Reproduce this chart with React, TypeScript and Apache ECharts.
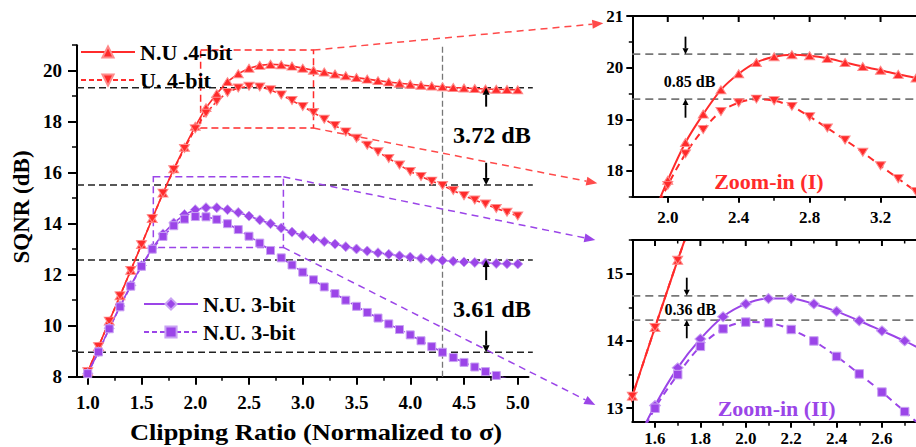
import React, { useEffect, useRef } from "react";
import * as echarts from "echarts";

// ---------------- data ----------------
const clippingRatio = [1.0, 1.1, 1.2, 1.3, 1.4, 1.5, 1.6, 1.7, 1.8, 1.9, 2.0, 2.1, 2.2, 2.3, 2.4, 2.5, 2.6, 2.7, 2.8, 2.9, 3.0, 3.1, 3.2, 3.3, 3.4, 3.5, 3.6, 3.7, 3.8, 3.9, 4.0, 4.1, 4.2, 4.3, 4.4, 4.5, 4.6, 4.7, 4.8, 4.9, 5.0];
const nu4bit = [8.2, 9.18, 10.18, 11.17, 12.17, 13.18, 14.2, 15.2, 16.15, 17.0, 17.82, 18.55, 19.1, 19.57, 19.88, 20.1, 20.21, 20.25, 20.23, 20.18, 20.1, 20.02, 19.95, 19.87, 19.8, 19.73, 19.67, 19.61, 19.56, 19.51, 19.47, 19.43, 19.4, 19.37, 19.34, 19.32, 19.3, 19.28, 19.27, 19.26, 19.25];
const u4bit = [8.2, 9.18, 10.18, 11.17, 12.17, 13.18, 14.2, 15.2, 16.12, 16.95, 17.72, 18.33, 18.8, 19.15, 19.32, 19.39, 19.36, 19.25, 19.05, 18.83, 18.6, 18.36, 18.1, 17.85, 17.6, 17.35, 17.08, 16.82, 16.56, 16.3, 16.05, 15.85, 15.67, 15.5, 15.3, 15.1, 14.93, 14.77, 14.6, 14.45, 14.3];
const nu3bit = [8.13, 8.98, 9.9, 10.77, 11.58, 12.36, 13.04, 13.6, 14.03, 14.36, 14.55, 14.63, 14.63, 14.55, 14.44, 14.3, 14.15, 14.0, 13.83, 13.67, 13.54, 13.42, 13.3, 13.2, 13.1, 13.01, 12.93, 12.86, 12.8, 12.74, 12.69, 12.64, 12.6, 12.56, 12.53, 12.5, 12.48, 12.46, 12.44, 12.43, 12.42];
const u3bit = [8.12, 8.97, 9.88, 10.74, 11.55, 12.33, 13.0, 13.5, 13.92, 14.18, 14.28, 14.27, 14.17, 14.0, 13.77, 13.51, 13.24, 12.95, 12.66, 12.38, 12.1, 11.8, 11.52, 11.26, 11.0, 10.76, 10.52, 10.3, 10.07, 9.85, 9.64, 9.41, 9.18, 8.96, 8.75, 8.56, 8.38, 8.2, 8.05, 7.92, 7.78];

const seriesNames = ["N.U .4-bit", "U. 4-bit", "N.U. 3-bit", "U. 3-bit"];
const legendLabels: Record<string, string> = {
  "N.U .4-bit": "N.U .4-bit",
  "U. 4-bit": "U. 4-bit",
  "N.U. 3-bit": "N.U. 3-bit",
  "U. 3-bit": "N.U. 3-bit",
};

// tick values
const mainXTicks = [1.0, 1.5, 2.0, 2.5, 3.0, 3.5, 4.0, 4.5, 5.0];
const mainXMinor = [1.25, 1.75, 2.25, 2.75, 3.25, 3.75, 4.25, 4.75];
const mainYTicks = [8, 10, 12, 14, 16, 18, 20];
const mainYMinor = [9, 11, 13, 15, 17, 19, 21];
const z1XTicks = [2.0, 2.4, 2.8, 3.2];
const z1XMinor = [2.2, 2.6, 3.0];
const z1YTicks = [18, 19, 20, 21];
const z1YMinor = [17.5, 18.5, 19.5, 20.5];
const z2XTicks = [1.6, 1.8, 2.0, 2.2, 2.4, 2.6];
const z2XMinor = [1.7, 1.9, 2.1, 2.3, 2.5, 2.7];
const z2YTicks = [13, 14, 15];
const z2YMinor = [13.5, 14.5, 15.5];

// axis ranges
const mainX = [0.9, 5.1];
const mainY = [8, 21];
const z1X = [1.8, 3.4];
const z1Y = [17.5, 21];
const z2X = [1.5, 2.75];
const z2Y = [12.8, 15.5];

// annotation values (data units)
const gap4Lines = [19.33, 15.52];
const gap4Label = "3.72 dB";
const gap3Lines = [12.58, 8.96];
const gap3Label = "3.61 dB";
const refLineX = 4.3;
const gapArrowX = 4.706;
const zoomBox1 = { x: [2.05, 3.1], y: [17.75, 20.81] };
const zoomBox2 = { x: [1.61, 2.82], y: [13.07, 15.84] };
const peak1Lines = [20.26, 19.39];
const peak1Label = "0.85 dB";
const peak2Lines = [14.67, 14.31];
const peak2Label = "0.36 dB";

const RED = "#ff2b2b";
const RED_LIGHT = "#ff8a8a";
const PURPLE = "#9b45e8";
const PURPLE_LIGHT = "#c9a2f3";
const FONT = "'Liberation Serif', 'Times New Roman', serif";

function xAxisMajor(gridIndex: number, range: number[], ticks: number[], fontSize: number, tickLen: number, margin: number) {
  return {
    type: "value", gridIndex, min: range[0], max: range[1], position: "bottom",
    axisLine: { show: true, onZero: false, lineStyle: { color: "#000", width: 2 } },
    axisTick: { show: true, customValues: ticks, length: tickLen, lineStyle: { color: "#000", width: 2 } },
    axisLabel: {
      show: true, customValues: ticks, margin, color: "#000", fontFamily: FONT, fontWeight: "bold", fontSize,
      formatter: (v: number) => v.toFixed(1),
    },
    splitLine: { show: false },
  };
}
function xAxisMinor(gridIndex: number, range: number[], ticks: number[], tickLen: number) {
  return {
    type: "value", gridIndex, min: range[0], max: range[1], position: "bottom",
    axisLine: { show: false, onZero: false },
    axisTick: { show: true, customValues: ticks, length: tickLen, lineStyle: { color: "#000", width: 1.5 } },
    axisLabel: { show: false },
    splitLine: { show: false },
  };
}
function yAxisMajor(gridIndex: number, range: number[], ticks: number[], fontSize: number, tickLen: number, margin: number) {
  return {
    type: "value", gridIndex, min: range[0], max: range[1], position: "left",
    axisLine: { show: true, onZero: false, lineStyle: { color: "#000", width: 2 } },
    axisTick: { show: true, customValues: ticks, length: tickLen, lineStyle: { color: "#000", width: 2 } },
    axisLabel: {
      show: true, customValues: ticks, margin, color: "#000", fontFamily: FONT, fontWeight: "bold", fontSize,
      formatter: (v: number) => String(v),
    },
    splitLine: { show: false },
  };
}
function yAxisMinor(gridIndex: number, range: number[], ticks: number[], tickLen: number) {
  return {
    type: "value", gridIndex, min: range[0], max: range[1], position: "left",
    axisLine: { show: false, onZero: false },
    axisTick: { show: true, customValues: ticks, length: tickLen, lineStyle: { color: "#000", width: 1.5 } },
    axisLabel: { show: false },
    splitLine: { show: false },
  };
}

const UP_TRI = "path://M5,0L10,8L0,8Z";
const DOWN_TRI = "path://M0,0L10,0L5,8Z";

function makeSeries(name: string, values: number[], color: string, light: string, symbol: string, size: number[], dashed: boolean, xi: number, yi: number, inset: boolean) {
  return {
    type: "line", name, xAxisIndex: xi, yAxisIndex: yi,
    data: clippingRatio.map((x, i) => [x, values[i]]),
    symbol, symbolSize: size, showSymbol: true, showAllSymbol: true,
    smooth: inset ? 0.3 : false,
    clip: true,
    lineStyle: { color, width: inset ? 2 : 1.6, type: dashed ? (inset ? [7, 5] : [5, 3]) : "solid" },
    itemStyle: { color, borderColor: light, borderWidth: 1 },
    emphasis: { disabled: true },
    z: 3,
  };
}

function buildOption() {
  const series: any[] = [];
  series.push(makeSeries(seriesNames[0], nu4bit, RED, RED_LIGHT, UP_TRI, [10, 8], false, 0, 0, false));
  series.push(makeSeries(seriesNames[1], u4bit, RED, RED_LIGHT, DOWN_TRI, [10, 8], true, 0, 0, false));
  series.push(makeSeries(seriesNames[2], nu3bit, PURPLE, PURPLE_LIGHT, "diamond", [10, 10], false, 0, 0, false));
  series.push(makeSeries(seriesNames[3], u3bit, PURPLE, PURPLE_LIGHT, "rect", [8, 8], true, 0, 0, false));
  series.push(makeSeries(seriesNames[0], nu4bit, RED, RED_LIGHT, UP_TRI, [10, 8], false, 2, 2, true));
  series.push(makeSeries(seriesNames[1], u4bit, RED, RED_LIGHT, DOWN_TRI, [10, 8], true, 2, 2, true));
  series.push(makeSeries(seriesNames[0], nu4bit, RED, RED_LIGHT, UP_TRI, [10, 8], false, 4, 4, true));
  series.push(makeSeries(seriesNames[1], u4bit, RED, RED_LIGHT, DOWN_TRI, [10, 8], true, 4, 4, true));
  series.push(makeSeries(seriesNames[2], nu3bit, PURPLE, PURPLE_LIGHT, "diamond", [11, 10], false, 4, 4, true));
  series.push(makeSeries(seriesNames[3], u3bit, PURPLE, PURPLE_LIGHT, "rect", [8.5, 8.5], true, 4, 4, true));

  const legendText = { fontFamily: FONT, fontWeight: "bold", fontSize: 22, color: "#000" };
  return {
    animation: false,
    backgroundColor: "#fff",
    grid: [
      { left: 77, top: 45.2, width: 451.5, height: 331.5 },
      { left: 632.3, top: 16, width: 291.4, height: 180.7 },
      { left: 632.3, top: 240, width: 292.7, height: 181.7 },
    ],
    xAxis: [
      xAxisMajor(0, mainX, mainXTicks, 19, 8, 16),
      xAxisMinor(0, mainX, mainXMinor, 4),
      xAxisMajor(1, z1X, z1XTicks, 17, 6, 12),
      xAxisMinor(1, z1X, z1XMinor, 4),
      xAxisMajor(2, z2X, z2XTicks, 17, 6, 8),
      xAxisMinor(2, z2X, z2XMinor, 4),
    ],
    yAxis: [
      yAxisMajor(0, mainY, mainYTicks, 19, 9, 15),
      yAxisMinor(0, mainY, mainYMinor, 5),
      yAxisMajor(1, z1Y, z1YTicks, 17, 6, 9),
      yAxisMinor(1, z1Y, z1YMinor, 3.5),
      yAxisMajor(2, z2Y, z2YTicks, 17, 6, 9),
      yAxisMinor(2, z2Y, z2YMinor, 3.5),
    ],
    legend: [
      {
        data: [seriesNames[0], seriesNames[1]], orient: "vertical", left: 80, top: 41, padding: 0,
        itemWidth: 54, itemHeight: 14, itemGap: 6, textStyle: legendText, selectedMode: false,
        formatter: (n: string) => legendLabels[n],
      },
      {
        data: [seriesNames[2], seriesNames[3]], orient: "vertical", left: 143, top: 293, padding: 0,
        itemWidth: 54, itemHeight: 14, itemGap: 6, textStyle: legendText, selectedMode: false,
        formatter: (n: string) => legendLabels[n],
      },
    ],
    series,
  };
}

function buildGraphics(chart: any) {
  const M = { xAxisIndex: 0, yAxisIndex: 0 };
  const Z1 = { xAxisIndex: 2, yAxisIndex: 2 };
  const Z2 = { xAxisIndex: 4, yAxisIndex: 4 };
  const P = (f: any, x: number, y: number): number[] => {
    const r = chart.convertToPixel(f, [x, y]) as number[];
    return [r[0], r[1]];
  };
  const els: any[] = [];

  const line = (a: number[], b: number[], color: string, width: number, dash: number[] | null, z = 1) => {
    const style: any = { stroke: color, lineWidth: width };
    if (dash) style.lineDash = dash;
    els.push({ type: "line", z, shape: { x1: a[0], y1: a[1], x2: b[0], y2: b[1] }, style });
  };
  const fillRect = (x: number, y: number, w: number, h: number, color: string) => {
    els.push({ type: "rect", z: 100, shape: { x, y, width: w, height: h }, style: { fill: color } });
  };
  const arrow = (a: number[], b: number[], color: string, width: number, headLen: number, headW: number, dash: number[] | null, z = 5) => {
    const dx = b[0] - a[0], dy = b[1] - a[1];
    const L = Math.hypot(dx, dy);
    const ux = dx / L, uy = dy / L;
    const s = [b[0] - ux * headLen, b[1] - uy * headLen];
    line(a, s, color, width, dash, z);
    els.push({
      type: "polygon", z,
      shape: { points: [[b[0], b[1]], [s[0] - uy * headW, s[1] + ux * headW], [s[0] + uy * headW, s[1] - ux * headW]] },
      style: { fill: color },
    });
  };
  const text = (pos: number[], str: string, size: number, color: string, scaleX = 1, rotation = 0) => {
    els.push({
      type: "text", z: 20, x: pos[0], y: pos[1], scaleX, rotation,
      style: { text: str, fill: color, fontFamily: FONT, fontWeight: "bold", fontSize: size, align: "center", verticalAlign: "middle" },
    });
  };

  // ---- top frame of the zoom-in panels (line + inward ticks) ----
  const topFrame = (f: any, xr: number[], yr: number[], major: number[], minor: number[]) => {
    const a = P(f, xr[0], yr[1]);
    fillRect(a[0] - 1, a[1] - 1, 916 - a[0] + 1, 2, "#000");
    major.forEach((v) => { const p = P(f, v, yr[1]); fillRect(p[0] - 1, p[1], 2, 6, "#000"); });
    minor.forEach((v) => { const p = P(f, v, yr[1]); fillRect(p[0] - 0.75, p[1], 1.5, 3.5, "#000"); });
  };
  topFrame(Z1, z1X, z1Y, z1XTicks, z1XMinor);
  topFrame(Z2, z2X, z2Y, z2XTicks, z2XMinor);

  // ---- main plot ----
  const mx0 = 0.9, mx1 = 5.14;
  [...gap4Lines, ...gap3Lines].forEach((y) => line(P(M, mx0, y), P(M, mx1, y), "#222", 1.5, [7, 4], 1));
  line(P(M, refLineX, 8), P(M, refLineX, 21), "#777", 1.3, [6, 3], 1);

  const box = (b: any, color: string) => {
    const tl = P(M, b.x[0], b.y[1]);
    const br = P(M, b.x[1], b.y[0]);
    els.push({
      type: "rect", z: 2,
      shape: { x: tl[0], y: tl[1], width: br[0] - tl[0], height: br[1] - tl[1] },
      style: { fill: "none", stroke: color, lineWidth: 1.5, lineDash: [7, 4] },
    });
    return { tr: [br[0], tl[1]], brc: br };
  };
  const b1 = box(zoomBox1, RED);
  const b2 = box(zoomBox2, PURPLE);

  arrow(P(M, gapArrowX, 18.59), P(M, gapArrowX, gap4Lines[0]), "#000", 2, 7, 3.5, null);
  arrow(P(M, gapArrowX, 16.39), P(M, gapArrowX, gap4Lines[1]), "#000", 2, 7, 3.5, null);
  arrow(P(M, gapArrowX, 11.79), P(M, gapArrowX, gap3Lines[0]), "#000", 2, 7, 3.5, null);
  arrow(P(M, gapArrowX, 9.8), P(M, gapArrowX, gap3Lines[1]), "#000", 2, 7, 3.5, null);
  text(P(M, 4.76, 17.48), gap4Label, 23, "#000", 1.05);
  text(P(M, 4.76, 10.65), gap3Label, 23, "#000", 1.05);

  const t1a = P(Z1, 1.8, 20.86); t1a[0] -= 29;
  const t1b = P(Z1, 1.8, 17.76); t1b[0] -= 35;
  const t2a = P(Z2, 1.5, 15.5); t2a[0] -= 37;
  const t2b = P(Z2, 1.5, 13.05); t2b[0] -= 37;
  arrow(b1.tr, t1a, "#ff4a4a", 1.5, 11, 4.5, [7, 5], 4);
  arrow(b1.brc, t1b, "#ff4a4a", 1.5, 11, 4.5, [7, 5], 4);
  arrow(b2.tr, t2a, PURPLE, 1.5, 11, 4.5, [7, 5], 4);
  arrow(b2.brc, t2b, PURPLE, 1.5, 11, 4.5, [7, 5], 4);

  // ---- zoom-in (I) ----
  peak1Lines.forEach((y) => line(P(Z1, z1X[0], y), P(Z1, z1X[1], y), "#777", 1.8, [8, 5], 1));
  arrow(P(Z1, 2.1, 20.6), P(Z1, 2.1, peak1Lines[0]), "#000", 1.8, 6, 3, null);
  arrow(P(Z1, 2.1, 19.03), P(Z1, 2.1, peak1Lines[1]), "#000", 1.8, 6, 3, null);
  text(P(Z1, 2.123, 19.74), peak1Label, 16, "#000");
  text(P(Z1, 2.57, 17.79), "Zoom-in (I)", 22, RED);

  // ---- zoom-in (II) ----
  peak2Lines.forEach((y) => line(P(Z2, z2X[0], y), P(Z2, z2X[1], y), "#777", 1.8, [8, 5], 1));
  arrow(P(Z2, 1.74, 14.94), P(Z2, 1.74, peak2Lines[0]), "#000", 1.8, 6, 3, null);
  arrow(P(Z2, 1.74, 14.04), P(Z2, 1.74, peak2Lines[1]), "#000", 1.8, 6, 3, null);
  text(P(Z2, 1.756, 14.46), peak2Label, 16, "#000");
  text(P(Z2, 2.136, 12.99), "Zoom-in (II)", 22, PURPLE);

  // ---- axis titles ----
  text([316, 432], "Clipping Ratio (Normalized to σ)", 24, "#000", 1.1);
  text([21, 207], "SQNR (dB)", 23, "#000", 1, Math.PI / 2);

  return els;
}

export default function App() {
  const ref = useRef<HTMLDivElement>(null);
  useEffect(() => {
    if (!ref.current) return;
    const chart = echarts.init(ref.current, null, { renderer: "svg" });
    chart.setOption(buildOption() as any);
    chart.setOption({ graphic: buildGraphics(chart) } as any);
    return () => chart.dispose();
  }, []);
  return (
    <div
      ref={ref}
      style={{ position: "absolute", left: 0, top: 0, width: 916, height: 447, background: "#fff" }}
    />
  );
}
